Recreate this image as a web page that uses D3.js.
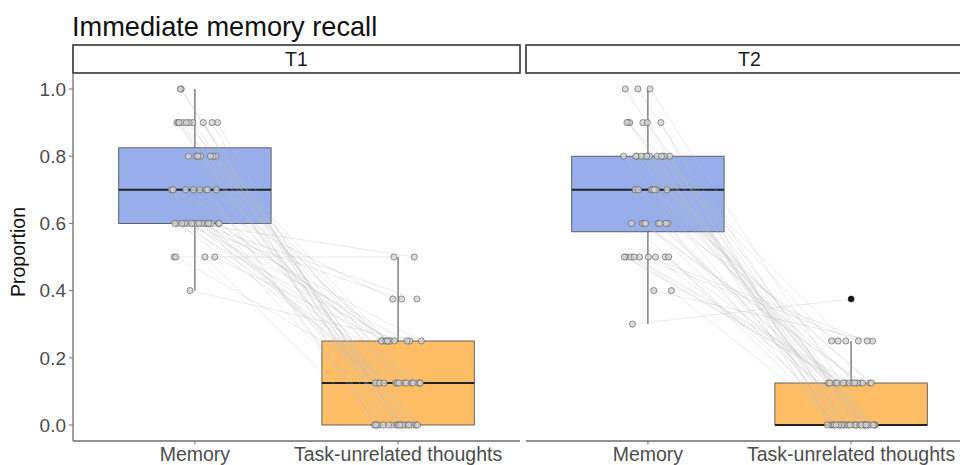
<!DOCTYPE html>
<html>
<head>
<meta charset="utf-8">
<script src="https://cdn.jsdelivr.net/npm/d3@7"></script>
<style>
  html, body { margin: 0; padding: 0; background: #fff; }
  svg { display: block; font-family: "Liberation Sans", Arial, sans-serif; }
</style>
</head>
<body>
<svg id="chart" width="960" height="465"></svg>
<script>
// ---- data ----
const title = "Immediate memory recall";
const panels = ["T1", "T2"];
const categories = ["Memory", "Task-unrelated thoughts"];
const yTicks = [0.0, 0.2, 0.4, 0.6, 0.8, 1.0];
const yLabel = "Proportion";

// per-participant proportions (paired: memory[i] <-> tut[i])
const memoryT1 = [0.9,0.6,0.8,0.6,0.7,1.0,0.6,0.9, 0.5,0.6,0.7,0.8,0.6,0.9,0.6,0.4,
                  0.7,0.6,0.9,0.8,0.6,0.5,0.7,0.6, 0.9,0.6,1.0,0.8,0.6,0.7,0.9,0.6,
                  0.5,0.8,0.6,0.7,0.9,0.6,0.8,0.6, 0.9,0.7,0.6,0.5,0.9,0.7,0.8,0.9];
const tutT1    = [0,0.125,0,0.25,0.125,0,0.25,0, 0.5,0.125,0,0.25,0.375,0,0.125,0.25,
                  0,0.25,0,0.125,0.5,0.125,0,0.25, 0,0.125,0,0.25,0.125,0.375,0,0.125,
                  0.25,0,0.125,0,0,0.25,0.125,0.375, 0,0.125,0.25,0,0.125,0.25,0,0.125];
const memoryT2 = [0.8,0.5,0.7,1.0,0.6,0.8,0.5,0.9, 0.6,0.8,0.4,0.7,0.5,0.8,0.9,0.6,
                  0.5,0.8,0.7,0.3,0.8,0.6,1.0,0.5, 0.8,0.7,0.5,0.9,0.6,0.8,0.4,0.7,
                  0.5,0.8,0.6,0.9,0.8,0.7,0.5,1.0, 0.6,0.8,0.9,0.5,0.7,0.8,0.6,0.9];
const tutT2    = [0,0.125,0,0,0.25,0,0.125,0, 0.125,0,0.25,0,0.125,0,0,0.125,
                  0.25,0,0.125,0.375,0,0.125,0,0, 0,0.125,0.25,0,0.125,0,0,0.125,
                  0.125,0,0,0.25,0,0.125,0,0, 0,0.25,0,0.125,0,0.125,0,0];

const fills = ["#97AEEB", "#FFBE66"];

// ---- layout ----
const svg = d3.select("#chart");
const panelW = 447, panelGap = 6;
const plotLeft = 73, plotTop = 73, plotBottom = 441;
const stripTop = 45;
const axisFont = 19.5;

const y = d3.scaleLinear().domain([0, 1]).range([425, 89]);

svg.append("text").attr("x", 72).attr("y", 36)
  .attr("font-size", 27.2).attr("fill", "#111").text(title);

svg.append("text")
  .attr("transform", `translate(25,${(plotTop + plotBottom) / 2 - 5}) rotate(-90)`)
  .attr("text-anchor", "middle").attr("font-size", axisFont).attr("fill", "#111")
  .text(yLabel);

const data = [
  [memoryT1, tutT1],
  [memoryT2, tutT2]
];

// deterministic jitter offsets (category units)
function jitter(i, seed) {
  const v = ((i * 0.61803398875 + seed) % 1);
  return (v - 0.5) * 2 * 0.12;
}

function boxStats(vals) {
  const s = vals.slice().sort(d3.ascending);
  const q1 = d3.quantile(s, 0.25), med = d3.quantile(s, 0.5), q3 = d3.quantile(s, 0.75);
  const iqr = q3 - q1;
  const lo = d3.min(s.filter(v => v >= q1 - 1.5 * iqr));
  const hi = d3.max(s.filter(v => v <= q3 + 1.5 * iqr));
  const out = s.filter(v => v < q1 - 1.5 * iqr || v > q3 + 1.5 * iqr);
  return { q1, med, q3, lo, hi, out: Array.from(new Set(out)) };
}

panels.forEach((p, pi) => {
  const x0 = plotLeft + pi * (panelW + panelGap);
  const g = svg.append("g");
  const x = d3.scalePoint().domain(categories).range([x0, x0 + panelW]).padding(0.6);
  const unit = x.step();
  const boxW = 0.75 * unit;
  const outliers = [];

  // strip
  g.append("rect").attr("x", x0).attr("y", stripTop).attr("width", panelW).attr("height", plotTop - stripTop)
    .attr("fill", "#fff").attr("stroke", "#333").attr("stroke-width", 1.6);
  g.append("text").attr("x", x0 + panelW / 2).attr("y", plotTop - 7)
    .attr("text-anchor", "middle").attr("font-size", axisFont).attr("fill", "#1a1a1a").text(p);

  const [mem, tut] = data[pi];
  const series = [mem, tut];

  // boxplots
  series.forEach((vals, ci) => {
    const st = boxStats(vals);
    const cx = x(categories[ci]);
    g.append("line").attr("x1", cx).attr("x2", cx).attr("y1", y(st.hi)).attr("y2", y(st.q3))
      .attr("stroke", "#555").attr("stroke-width", 1.1);
    g.append("line").attr("x1", cx).attr("x2", cx).attr("y1", y(st.q1)).attr("y2", y(st.lo))
      .attr("stroke", "#555").attr("stroke-width", 1.1);
    g.append("rect").attr("x", cx - boxW / 2).attr("y", y(st.q3))
      .attr("width", boxW).attr("height", y(st.q1) - y(st.q3))
      .attr("fill", fills[ci]).attr("stroke", "#444").attr("stroke-width", 0.8);
    g.append("line").attr("x1", cx - boxW / 2).attr("x2", cx + boxW / 2)
      .attr("y1", y(st.med)).attr("y2", y(st.med))
      .attr("stroke", "#222").attr("stroke-width", 2);
    st.out.forEach(v => outliers.push([cx, v]));
  });

  // paired lines
  const pts = mem.map((m, i) => {
    const xm = x(categories[0]) + jitter(i, 0.13 + pi * 0.31) * unit;
    const xt = x(categories[1]) + jitter(i, 0.47 + pi * 0.29) * unit;
    return { xm, xt, m, t: tut[i] };
  });
  g.append("g").selectAll("line").data(pts).join("line")
    .attr("x1", d => d.xm).attr("y1", d => y(d.m))
    .attr("x2", d => d.xt).attr("y2", d => y(d.t))
    .attr("stroke", "#bdbdbd").attr("stroke-opacity", 0.45).attr("stroke-width", 0.7);

  // points
  const pg = g.append("g");
  pts.forEach(d => {
    [[d.xm, d.m], [d.xt, d.t]].forEach(([px, v]) => {
      pg.append("circle").attr("cx", px).attr("cy", y(v)).attr("r", 3.1)
        .attr("fill", "#d2d2d2").attr("fill-opacity", 0.8)
        .attr("stroke", "#555").attr("stroke-width", 0.7).attr("stroke-opacity", 0.85);
    });
  });

  // outliers
  outliers.forEach(([cx, v]) => {
    g.append("circle").attr("cx", cx).attr("cy", y(v)).attr("r", 3).attr("fill", "#111");
  });

  // x axis
  const xa = g.append("g").attr("transform", `translate(0,${plotBottom})`);
  xa.append("line").attr("x1", x0).attr("x2", x0 + panelW).attr("y1", 0).attr("y2", 0)
    .attr("stroke", "#6e6e6e").attr("stroke-width", 1.3);
  categories.forEach(c => {
    xa.append("line").attr("x1", x(c)).attr("x2", x(c)).attr("y1", 0).attr("y2", 3.5)
      .attr("stroke", "#6e6e6e").attr("stroke-width", 1);
    xa.append("text").attr("x", x(c)).attr("y", 20).attr("text-anchor", "middle")
      .attr("font-size", axisFont).attr("fill", "#4d4d4d").text(c);
  });

  // y axis (left panel only)
  if (pi === 0) {
    const ya = g.append("g").attr("transform", `translate(${x0},0)`);
    ya.append("line").attr("x1", 0).attr("x2", 0).attr("y1", plotTop).attr("y2", plotBottom)
      .attr("stroke", "#6e6e6e").attr("stroke-width", 1.3);
    yTicks.forEach(t => {
      ya.append("line").attr("x1", -4).attr("x2", 0).attr("y1", y(t)).attr("y2", y(t))
        .attr("stroke", "#6e6e6e").attr("stroke-width", 1);
      ya.append("text").attr("x", -7).attr("y", y(t)).attr("dy", "0.36em")
        .attr("text-anchor", "end").attr("font-size", 19).attr("fill", "#4d4d4d")
        .text(d3.format(".1f")(t));
    });
  }
});
</script>
</body>
</html>
